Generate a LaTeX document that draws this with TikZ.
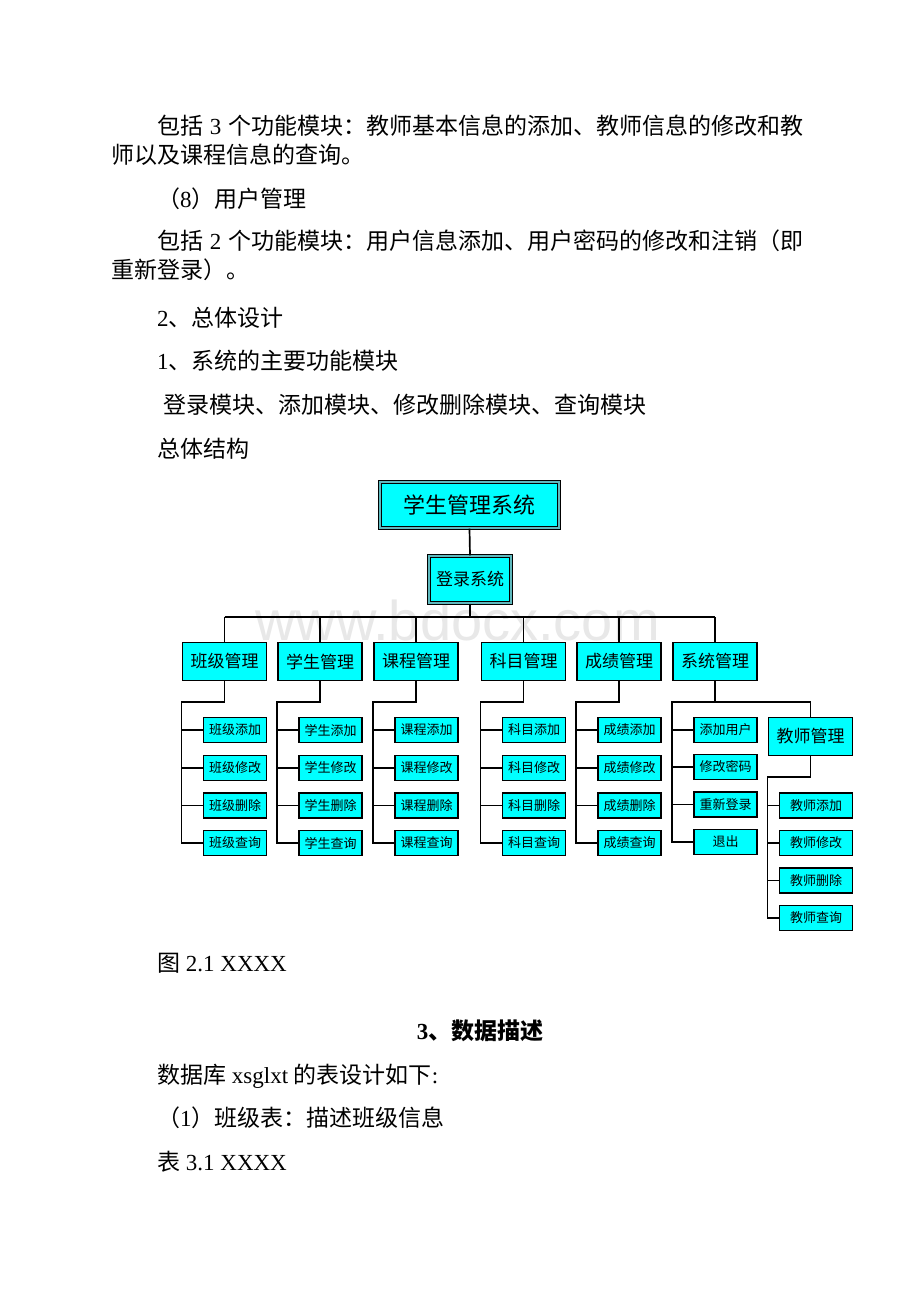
\documentclass[tikz,border=0pt]{standalone}
\usepackage{fontspec}
\setmainfont{Liberation Serif}
\newfontfamily\cjk{Noto Sans CJK SC}
\newfontfamily\wmfont{Liberation Sans}
\usetikzlibrary{calc}
\XeTeXlinebreaklocale "zh"
\XeTeXlinebreakskip=0pt plus 3pt
\definecolor{boxc}{RGB}{0,255,255}
\definecolor{gapc}{RGB}{95,185,190}
\newcommand\zh[1]{{\cjk #1}}
\begin{document}
\begin{tikzpicture}[x=1pt,y=-1pt,
  box/.style={draw=black, fill=boxc, line width=1.9pt, inner sep=0pt,
    font=\cjk\fontsize{17}{17}\selectfont, minimum width=84pt, minimum height=38pt},
  sub/.style={box, minimum width=63pt, minimum height=25pt,
    font=\cjk\fontsize{13}{13}\selectfont},
  tsub/.style={sub, minimum width=73pt},
  dbox/.style={box, line width=1.1pt, double=gapc, double distance=1.6pt},
  txt/.style={anchor=base west, inner sep=0pt, font=\fontsize{23}{23}\selectfont},
  wire/.style={draw=black, line width=1.7pt}]
\useasboundingbox[fill=white] (0,0) rectangle (920,1302);

% watermark
\node[anchor=base west, inner sep=0pt, text=black!9,
  font=\wmfont\fontsize{56}{56}\selectfont] (wm) at (255,640) {www.bdocx.com};

% body text
\node[txt] (t1) at (157,134.5) {\makebox[646pt][s]{\zh{包括} 3 \zh{个功能模块：教师基本信息的添加、教师信息的修改和教}}};
\node[txt] (t2) at (111,163.5) {\zh{师以及课程信息的查询。}};
\node[txt] (t3) at (157,207.5) {\zh{（}8\zh{）用户管理}};
\node[txt] (t4) at (157,249.5) {\makebox[646pt][s]{\zh{包括} 2 \zh{个功能模块：用户信息添加、用户密码的修改和注销（即}}};
\node[txt] (t5) at (111,278.5) {\zh{重新登录）。}};
\node[txt] (t6) at (157,326.5) {2\zh{、总体设计}};
\node[txt] (t7) at (157,369.5) {1\zh{、系统的主要功能模块}};
\node[txt] (t8) at (163,413.5) {\zh{登录模块、添加模块、修改删除模块、查询模块}};
\node[txt] (t9) at (157,457.5) {\zh{总体结构}};
\node[txt] (t10) at (157,971.5) {\zh{图} 2.1 XXXX};
\node[txt, anchor=base] (t11) at (480,1039.5) {\textbf{3}{\cjk\bfseries 、数据描述}};
\node[txt] (t12) at (157,1083.5) {\zh{数据库} xsglxt \zh{的表设计如下}:};
\node[txt] (t13) at (157,1126.5) {\zh{（}1\zh{）班级表：描述班级信息}};
\node[txt] (t14) at (157,1170.5) {\zh{表} 3.1 XXXX};

% top boxes
\node[dbox, minimum width=179pt, minimum height=46pt,
  font=\cjk\fontsize{22}{22}\selectfont] (top) at (469.5,505) {学生管理系统};
\node[dbox, minimum width=82pt, minimum height=47pt] (login) at (470,579.5) {登录系统};
\draw[wire] (top.south) -- (login.north);

% level 2 groups
\foreach \g/\x/\p in {bj/224.5/班级, xs/320/学生, kc/416/课程, km/523.5/科目, cj/619/成绩}{
  \node[box] (\g) at (\x,661.5) {\p{}管理};
  \node[sub] (\g1) at (\x+10.5,730) {\p{}添加};
  \node[sub] (\g2) at (\x+10.5,768) {\p{}修改};
  \node[sub] (\g3) at (\x+10.5,805.5) {\p{}删除};
  \node[sub] (\g4) at (\x+10.5,843) {\p{}查询};
}
\node[box] (xt) at (715,661.5) {系统管理};
\node[sub] (xt1) at (725.5,730) {添加用户};
\node[sub] (xt2) at (725.5,767) {修改密码};
\node[sub] (xt3) at (725.5,804.5) {重新登录};
\node[sub] (xt4) at (725.5,842) {退出};
\node[box] (jsgl) at (810.5,736.5) {教师管理};
\node[tsub] (js1) at (816,805.5) {教师添加};
\node[tsub] (js2) at (816,843) {教师修改};
\node[tsub] (js3) at (816,880.5) {教师删除};
\node[tsub] (js4) at (816,918) {教师查询};

% bus under login
\coordinate (bus) at (470,617);
\draw[wire] (login.south) -- (bus);
\draw[wire] (bj.north |- bus) -- (xt.north |- bus);
\foreach \g in {bj,xs,kc,km,cj,xt}{
  \draw[wire] (\g.north |- bus) -- (\g.north);
}

% trees
\foreach \g in {bj,xs,kc,km,cj,xt}{
  \coordinate (\g-t) at (\g.west |- 0,702);
  \draw[wire] (\g.south) -- (\g.south |- \g-t) -- (\g-t) -- (\g-t |- \g4) -- (\g4.west);
  \draw[wire] (\g-t |- \g1) -- (\g1.west);
  \draw[wire] (\g-t |- \g2) -- (\g2.west);
  \draw[wire] (\g-t |- \g3) -- (\g3.west);
}
\draw[wire] (xt.south |- xt-t) -- (xt-t -| jsgl.north) -- (jsgl.north);

\coordinate (js-t) at (jsgl.west |- 0,777);
\draw[wire] (jsgl.south) -- (jsgl.south |- js-t) -- (js-t) -- (js-t |- js4) -- (js4.west);
\draw[wire] (js-t |- js1) -- (js1.west);
\draw[wire] (js-t |- js2) -- (js2.west);
\draw[wire] (js-t |- js3) -- (js3.west);
\end{tikzpicture}
\end{document}
